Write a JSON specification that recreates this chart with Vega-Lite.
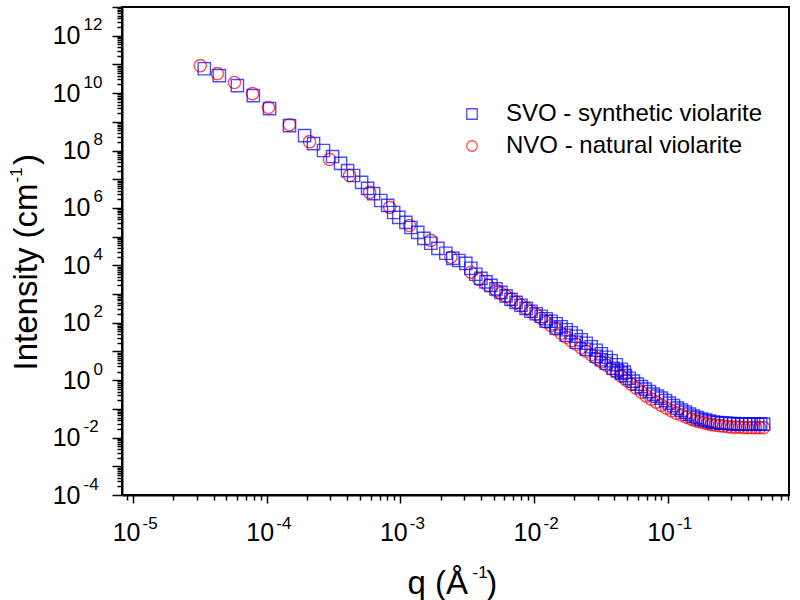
{
  "$schema": "https://vega.github.io/schema/vega-lite/v6.json",
  "width": 667,
  "height": 488,
  "autosize": {"type": "none"},
  "padding": {"left": 122, "top": 7, "right": 11, "bottom": 105},
  "background": "white",
  "config": {
    "view": {"stroke": "black", "strokeWidth": 2},
    "font": "Liberation Sans",
    "axis": {"labelFont": "Liberation Sans", "labelColor": "black", "titleFont": "Liberation Sans", "titleColor": "black", "titleFontWeight": "normal", "grid": false, "labelOverlap": false, "labelFlush": false},
    "legend": {"orient": "none", "legendX": 338, "legendY": 95, "labelFont": "Liberation Sans", "labelFontSize": 24, "labelColor": "black", "labelLimit": 500, "symbolSize": 110, "symbolStrokeWidth": 1.3, "rowPadding": 8, "labelOffset": 22}
  },
  "data": {"values": [
    {"sample": "NVO - natural violarite", "q": 3.18e-5, "I": 9.12e10},
    {"sample": "NVO - natural violarite", "q": 4.27e-5, "I": 4.79e10},
    {"sample": "NVO - natural violarite", "q": 5.73e-5, "I": 2.34e10},
    {"sample": "NVO - natural violarite", "q": 7.82e-5, "I": 9.55e9},
    {"sample": "NVO - natural violarite", "q": 1.03e-4, "I": 3.16e9},
    {"sample": "NVO - natural violarite", "q": 1.48e-4, "I": 7.94e8},
    {"sample": "NVO - natural violarite", "q": 2.09e-4, "I": 2.04e8},
    {"sample": "NVO - natural violarite", "q": 2.95e-4, "I": 4.9e7},
    {"sample": "NVO - natural violarite", "q": 4.17e-4, "I": 1.35e7},
    {"sample": "NVO - natural violarite", "q": 5.89e-4, "I": 3.47e6},
    {"sample": "NVO - natural violarite", "q": 8.32e-4, "I": 1.05e6},
    {"sample": "NVO - natural violarite", "q": 1.17e-3, "I": 2.45e5},
    {"sample": "NVO - natural violarite", "q": 1.69e-3, "I": 7.41e4},
    {"sample": "NVO - natural violarite", "q": 2.39e-3, "I": 1.91e4},
    {"sample": "NVO - natural violarite", "q": 3.37e-3, "I": 5750},
    {"sample": "NVO - natural violarite", "q": 3.87e-3, "I": 3240},
    {"sample": "NVO - natural violarite", "q": 4.53e-3, "I": 2000},
    {"sample": "NVO - natural violarite", "q": 5.2e-3, "I": 1350},
    {"sample": "NVO - natural violarite", "q": 5.662e-3, "I": 1062},
    {"sample": "NVO - natural violarite", "q": 6.18e-3, "I": 836},
    {"sample": "NVO - natural violarite", "q": 6.73e-3, "I": 656},
    {"sample": "NVO - natural violarite", "q": 7.345e-3, "I": 516},
    {"sample": "NVO - natural violarite", "q": 7.998e-3, "I": 406},
    {"sample": "NVO - natural violarite", "q": 8.73e-3, "I": 319},
    {"sample": "NVO - natural violarite", "q": 9.506e-3, "I": 251},
    {"sample": "NVO - natural violarite", "q": 1.038e-2, "I": 198},
    {"sample": "NVO - natural violarite", "q": 1.13e-2, "I": 144},
    {"sample": "NVO - natural violarite", "q": 1.233e-2, "I": 104},
    {"sample": "NVO - natural violarite", "q": 1.343e-2, "I": 78.7},
    {"sample": "NVO - natural violarite", "q": 1.466e-2, "I": 59.4},
    {"sample": "NVO - natural violarite", "q": 1.596e-2, "I": 43.2},
    {"sample": "NVO - natural violarite", "q": 1.742e-2, "I": 31.3},
    {"sample": "NVO - natural violarite", "q": 1.897e-2, "I": 23.7},
    {"sample": "NVO - natural violarite", "q": 2.07e-2, "I": 17.9},
    {"sample": "NVO - natural violarite", "q": 2.254e-2, "I": 13.5},
    {"sample": "NVO - natural violarite", "q": 2.46e-2, "I": 10.2},
    {"sample": "NVO - natural violarite", "q": 2.679e-2, "I": 7.71},
    {"sample": "NVO - natural violarite", "q": 2.924e-2, "I": 5.82},
    {"sample": "NVO - natural violarite", "q": 3.192e-2, "I": 4.4},
    {"sample": "NVO - natural violarite", "q": 3.475e-2, "I": 3.32},
    {"sample": "NVO - natural violarite", "q": 3.784e-2, "I": 2.51},
    {"sample": "NVO - natural violarite", "q": 4.13e-2, "I": 1.9},
    {"sample": "NVO - natural violarite", "q": 4.508e-2, "I": 1.38},
    {"sample": "NVO - natural violarite", "q": 4.909e-2, "I": 1.0},
    {"sample": "NVO - natural violarite", "q": 5.346e-2, "I": 0.726},
    {"sample": "NVO - natural violarite", "q": 5.834e-2, "I": 0.527},
    {"sample": "NVO - natural violarite", "q": 6.368e-2, "I": 0.383},
    {"sample": "NVO - natural violarite", "q": 6.934e-2, "I": 0.277},
    {"sample": "NVO - natural violarite", "q": 7.551e-2, "I": 0.218},
    {"sample": "NVO - natural violarite", "q": 8.241e-2, "I": 0.172},
    {"sample": "NVO - natural violarite", "q": 8.974e-2, "I": 0.135},
    {"sample": "NVO - natural violarite", "q": 9.795e-2, "I": 0.106},
    {"sample": "NVO - natural violarite", "q": 0.1067, "I": 0.0869},
    {"sample": "NVO - natural violarite", "q": 0.1164, "I": 0.0711},
    {"sample": "NVO - natural violarite", "q": 0.1271, "I": 0.0607},
    {"sample": "NVO - natural violarite", "q": 0.1384, "I": 0.0516},
    {"sample": "NVO - natural violarite", "q": 0.1507, "I": 0.044},
    {"sample": "NVO - natural violarite", "q": 0.1614, "I": 0.039},
    {"sample": "NVO - natural violarite", "q": 0.173, "I": 0.036},
    {"sample": "NVO - natural violarite", "q": 0.1854, "I": 0.0333},
    {"sample": "NVO - natural violarite", "q": 0.1987, "I": 0.0307},
    {"sample": "NVO - natural violarite", "q": 0.2128, "I": 0.0283},
    {"sample": "NVO - natural violarite", "q": 0.228, "I": 0.0272},
    {"sample": "NVO - natural violarite", "q": 0.2449, "I": 0.0261},
    {"sample": "NVO - natural violarite", "q": 0.2624, "I": 0.0251},
    {"sample": "NVO - natural violarite", "q": 0.2812, "I": 0.0242},
    {"sample": "NVO - natural violarite", "q": 0.3013, "I": 0.0232},
    {"sample": "NVO - natural violarite", "q": 0.3228, "I": 0.0232},
    {"sample": "NVO - natural violarite", "q": 0.3459, "I": 0.0232},
    {"sample": "NVO - natural violarite", "q": 0.3707, "I": 0.0223},
    {"sample": "NVO - natural violarite", "q": 0.3972, "I": 0.0223},
    {"sample": "NVO - natural violarite", "q": 0.4256, "I": 0.0223},
    {"sample": "NVO - natural violarite", "q": 0.456, "I": 0.0223},
    {"sample": "NVO - natural violarite", "q": 0.4887, "I": 0.0223},
    {"sample": "NVO - natural violarite", "q": 0.5236, "I": 0.0223},
    {"sample": "SVO - synthetic violarite", "q": 3.41e-5, "I": 7.08e10},
    {"sample": "SVO - synthetic violarite", "q": 4.42e-5, "I": 4.07e10},
    {"sample": "SVO - synthetic violarite", "q": 6.03e-5, "I": 1.82e10},
    {"sample": "SVO - synthetic violarite", "q": 7.94e-5, "I": 8.13e9},
    {"sample": "SVO - synthetic violarite", "q": 1.05e-4, "I": 2.88e9},
    {"sample": "SVO - synthetic violarite", "q": 1.48e-4, "I": 7.41e8},
    {"sample": "SVO - synthetic violarite", "q": 1.92e-4, "I": 3.31e8},
    {"sample": "SVO - synthetic violarite", "q": 2.24e-4, "I": 1.74e8},
    {"sample": "SVO - synthetic violarite", "q": 2.66e-4, "I": 1.0e8},
    {"sample": "SVO - synthetic violarite", "q": 3.11e-4, "I": 6.17e7},
    {"sample": "SVO - synthetic violarite", "q": 3.57e-4, "I": 3.55e7},
    {"sample": "SVO - synthetic violarite", "q": 4.03e-4, "I": 2.0e7},
    {"sample": "SVO - synthetic violarite", "q": 4.47e-4, "I": 1.35e7},
    {"sample": "SVO - synthetic violarite", "q": 5.13e-4, "I": 7.76e6},
    {"sample": "SVO - synthetic violarite", "q": 5.69e-4, "I": 4.79e6},
    {"sample": "SVO - synthetic violarite", "q": 6.31e-4, "I": 3.16e6},
    {"sample": "SVO - synthetic violarite", "q": 7.13e-4, "I": 1.82e6},
    {"sample": "SVO - synthetic violarite", "q": 8.04e-4, "I": 1.23e6},
    {"sample": "SVO - synthetic violarite", "q": 8.91e-4, "I": 6.92e5},
    {"sample": "SVO - synthetic violarite", "q": 9.73e-4, "I": 4.68e5},
    {"sample": "SVO - synthetic violarite", "q": 1.1e-3, "I": 3.16e5},
    {"sample": "SVO - synthetic violarite", "q": 1.2e-3, "I": 2.09e5},
    {"sample": "SVO - synthetic violarite", "q": 1.35e-3, "I": 1.41e5},
    {"sample": "SVO - synthetic violarite", "q": 1.5e-3, "I": 8.71e4},
    {"sample": "SVO - synthetic violarite", "q": 1.69e-3, "I": 5.89e4},
    {"sample": "SVO - synthetic violarite", "q": 1.91e-3, "I": 3.89e4},
    {"sample": "SVO - synthetic violarite", "q": 2.19e-3, "I": 2.63e4},
    {"sample": "SVO - synthetic violarite", "q": 2.47e-3, "I": 1.74e4},
    {"sample": "SVO - synthetic violarite", "q": 2.74e-3, "I": 1.48e4},
    {"sample": "SVO - synthetic violarite", "q": 3.09e-3, "I": 1.17e4},
    {"sample": "SVO - synthetic violarite", "q": 3.37e-3, "I": 7940},
    {"sample": "SVO - synthetic violarite", "q": 3.67e-3, "I": 4900},
    {"sample": "SVO - synthetic violarite", "q": 4.009e-3, "I": 3532},
    {"sample": "SVO - synthetic violarite", "q": 4.375e-3, "I": 2667},
    {"sample": "SVO - synthetic violarite", "q": 4.764e-3, "I": 2014},
    {"sample": "SVO - synthetic violarite", "q": 5.2e-3, "I": 1523},
    {"sample": "SVO - synthetic violarite", "q": 5.662e-3, "I": 1151},
    {"sample": "SVO - synthetic violarite", "q": 6.18e-3, "I": 869},
    {"sample": "SVO - synthetic violarite", "q": 6.73e-3, "I": 656},
    {"sample": "SVO - synthetic violarite", "q": 7.345e-3, "I": 516},
    {"sample": "SVO - synthetic violarite", "q": 7.998e-3, "I": 406},
    {"sample": "SVO - synthetic violarite", "q": 8.73e-3, "I": 319},
    {"sample": "SVO - synthetic violarite", "q": 9.506e-3, "I": 251},
    {"sample": "SVO - synthetic violarite", "q": 1.038e-2, "I": 206},
    {"sample": "SVO - synthetic violarite", "q": 1.13e-2, "I": 168},
    {"sample": "SVO - synthetic violarite", "q": 1.233e-2, "I": 138},
    {"sample": "SVO - synthetic violarite", "q": 1.343e-2, "I": 113},
    {"sample": "SVO - synthetic violarite", "q": 1.466e-2, "I": 92.3},
    {"sample": "SVO - synthetic violarite", "q": 1.596e-2, "I": 72.6},
    {"sample": "SVO - synthetic violarite", "q": 1.742e-2, "I": 57.1},
    {"sample": "SVO - synthetic violarite", "q": 1.897e-2, "I": 44.9},
    {"sample": "SVO - synthetic violarite", "q": 2.07e-2, "I": 33.9},
    {"sample": "SVO - synthetic violarite", "q": 2.254e-2, "I": 25.6},
    {"sample": "SVO - synthetic violarite", "q": 2.46e-2, "I": 19.4},
    {"sample": "SVO - synthetic violarite", "q": 2.679e-2, "I": 14.6},
    {"sample": "SVO - synthetic violarite", "q": 2.924e-2, "I": 11.0},
    {"sample": "SVO - synthetic violarite", "q": 3.192e-2, "I": 8.35},
    {"sample": "SVO - synthetic violarite", "q": 3.475e-2, "I": 6.31},
    {"sample": "SVO - synthetic violarite", "q": 3.784e-2, "I": 4.76},
    {"sample": "SVO - synthetic violarite", "q": 4.13e-2, "I": 3.46},
    {"sample": "SVO - synthetic violarite", "q": 4.508e-2, "I": 2.41},
    {"sample": "SVO - synthetic violarite", "q": 4.742e-2, "I": 1.9},
    {"sample": "SVO - synthetic violarite", "q": 1.233e-2, "I": 112.7},
    {"sample": "SVO - synthetic violarite", "q": 1.466e-2, "I": 64.4},
    {"sample": "SVO - synthetic violarite", "q": 1.742e-2, "I": 36.7},
    {"sample": "SVO - synthetic violarite", "q": 2.07e-2, "I": 21.0},
    {"sample": "SVO - synthetic violarite", "q": 2.46e-2, "I": 11.97},
    {"sample": "SVO - synthetic violarite", "q": 2.924e-2, "I": 6.84},
    {"sample": "SVO - synthetic violarite", "q": 3.192e-2, "I": 5.16},
    {"sample": "SVO - synthetic violarite", "q": 3.475e-2, "I": 3.9},
    {"sample": "SVO - synthetic violarite", "q": 3.917e-2, "I": 2.61},
    {"sample": "SVO - synthetic violarite", "q": 4.207e-2, "I": 2.14},
    {"sample": "SVO - synthetic violarite", "q": 4.508e-2, "I": 1.75},
    {"sample": "SVO - synthetic violarite", "q": 4.831e-2, "I": 1.44},
    {"sample": "SVO - synthetic violarite", "q": 5.164e-2, "I": 1.17},
    {"sample": "SVO - synthetic violarite", "q": 5.546e-2, "I": 0.923},
    {"sample": "SVO - synthetic violarite", "q": 5.929e-2, "I": 0.726},
    {"sample": "SVO - synthetic violarite", "q": 6.368e-2, "I": 0.594},
    {"sample": "SVO - synthetic violarite", "q": 6.808e-2, "I": 0.486},
    {"sample": "SVO - synthetic violarite", "q": 7.311e-2, "I": 0.398},
    {"sample": "SVO - synthetic violarite", "q": 7.816e-2, "I": 0.326},
    {"sample": "SVO - synthetic violarite", "q": 8.395e-2, "I": 0.277},
    {"sample": "SVO - synthetic violarite", "q": 8.974e-2, "I": 0.237},
    {"sample": "SVO - synthetic violarite", "q": 9.638e-2, "I": 0.194},
    {"sample": "SVO - synthetic violarite", "q": 0.103, "I": 0.158},
    {"sample": "SVO - synthetic violarite", "q": 0.1107, "I": 0.13},
    {"sample": "SVO - synthetic violarite", "q": 0.1183, "I": 0.106},
    {"sample": "SVO - synthetic violarite", "q": 0.1271, "I": 0.0906},
    {"sample": "SVO - synthetic violarite", "q": 0.1358, "I": 0.0771},
    {"sample": "SVO - synthetic violarite", "q": 0.1459, "I": 0.0656},
    {"sample": "SVO - synthetic violarite", "q": 0.156, "I": 0.056},
    {"sample": "SVO - synthetic violarite", "q": 0.1671, "I": 0.0497},
    {"sample": "SVO - synthetic violarite", "q": 0.1791, "I": 0.044},
    {"sample": "SVO - synthetic violarite", "q": 0.1919, "I": 0.0406},
    {"sample": "SVO - synthetic violarite", "q": 0.2056, "I": 0.0375},
    {"sample": "SVO - synthetic violarite", "q": 0.2203, "I": 0.0346},
    {"sample": "SVO - synthetic violarite", "q": 0.236, "I": 0.0333},
    {"sample": "SVO - synthetic violarite", "q": 0.2529, "I": 0.0319},
    {"sample": "SVO - synthetic violarite", "q": 0.2716, "I": 0.0319},
    {"sample": "SVO - synthetic violarite", "q": 0.2911, "I": 0.0307},
    {"sample": "SVO - synthetic violarite", "q": 0.3119, "I": 0.0307},
    {"sample": "SVO - synthetic violarite", "q": 0.3342, "I": 0.0295},
    {"sample": "SVO - synthetic violarite", "q": 0.3581, "I": 0.0295},
    {"sample": "SVO - synthetic violarite", "q": 0.3837, "I": 0.0295},
    {"sample": "SVO - synthetic violarite", "q": 0.4111, "I": 0.0295},
    {"sample": "SVO - synthetic violarite", "q": 0.4406, "I": 0.0295},
    {"sample": "SVO - synthetic violarite", "q": 0.4721, "I": 0.0295},
    {"sample": "SVO - synthetic violarite", "q": 0.4977, "I": 0.0295},
    {"sample": "SVO - synthetic violarite", "q": 0.5236, "I": 0.0295}
  ]},
  "resolve": {"axis": {"x": "independent", "y": "independent"}},
  "layer": [
    {
      "transform": [{"filter": "datum.sample == 'NVO - natural violarite'"}],
      "mark": {"type": "point", "filled": false, "strokeWidth": 1.4, "size": 150, "clip": true},
      "encoding": {
        "x": {
          "field": "q", "type": "quantitative",
          "scale": {"type": "log", "domain": [8.26e-6, 0.81], "nice": false},
          "axis": {
            "orient": "bottom",
            "title": "q (Å\u00a0\u00a0)", "titleFontSize": 33, "titleAlign": "left", "titleBaseline": "alphabetic", "titleX": 285, "titleY": 98, "titleAngle": 0,
            "tickCount": 40,
            "labelExpr": "abs(log(datum.value)/LN10 - round(log(datum.value)/LN10)) < 0.001 ? '10' : ''",
            "labelFontSize": 25, "labelAlign": "center", "labelBaseline": "alphabetic", "labelOffset": -7, "labelPadding": 37,
            "domainColor": "black", "domainWidth": 2,
            "tickColor": "black", "tickWidth": 1.5,
            "tickSize": {"condition": {"test": "abs(log(datum.value)/LN10 - round(log(datum.value)/LN10)) < 0.001", "value": 8}, "value": 5}
          }
        },
        "y": {
          "field": "I", "type": "quantitative",
          "scale": {"type": "log", "domain": [1e-4, 1e13], "nice": false},
          "axis": {
            "orient": "left",
            "title": "Intensity (cm\u00a0\u00a0)", "titleFontSize": 33, "titleAngle": -90, "titleAlign": "left", "titleBaseline": "alphabetic", "titleX": -86, "titleY": 363,
            "tickCount": 40,
            "labelExpr": "abs(log(datum.value)/LN10 - round(log(datum.value)/LN10)) < 0.001 && round(log(datum.value)/LN10) % 2 == 0 ? '10' : ''",
            "labelFontSize": 25, "labelAlign": "right", "labelBaseline": "middle",
            "labelPadding": {"condition": {"test": "length(toString(round(log(datum.value)/LN10))) == 1", "value": 22}, "value": 32},
            "domainColor": "black", "domainWidth": 2,
            "tickColor": "black", "tickWidth": 1.5,
            "tickSize": {"condition": {"test": "abs(log(datum.value)/LN10 - round(log(datum.value)/LN10)) < 0.001", "value": 10}, "value": 5}
          }
        },
        "color": {
          "field": "sample", "type": "nominal",
          "scale": {"domain": ["SVO - synthetic violarite", "NVO - natural violarite"], "range": ["#0000ff", "#ff0000"]},
          "legend": {"title": null}
        },
        "shape": {
          "field": "sample", "type": "nominal",
          "scale": {"domain": ["SVO - synthetic violarite", "NVO - natural violarite"], "range": ["square", "circle"]},
          "legend": {"title": null}
        }
      }
    },
    {
      "transform": [{"filter": "datum.sample == 'SVO - synthetic violarite'"}],
      "mark": {"type": "point", "filled": false, "strokeWidth": 1.4, "size": 150, "clip": true},
      "encoding": {
        "x": {
          "field": "q", "type": "quantitative",
          "scale": {"type": "log", "domain": [8.26e-6, 0.81], "nice": false},
          "axis": {
            "orient": "bottom",
            "title": "-1", "titleFontSize": 17, "titleAlign": "left", "titleBaseline": "alphabetic", "titleX": 350, "titleY": 82, "titleAngle": 0,
            "tickCount": 40,
            "labelExpr": "abs(log(datum.value)/LN10 - round(log(datum.value)/LN10)) < 0.001 ? toString(round(log(datum.value)/LN10)) : ''",
            "labelFontSize": 17, "labelAlign": "left", "labelBaseline": "alphabetic", "labelOffset": 9, "labelPadding": 33,
            "domain": false, "ticks": false, "tickSize": 0
          }
        },
        "y": {
          "field": "I", "type": "quantitative",
          "scale": {"type": "log", "domain": [1e-4, 1e13], "nice": false},
          "axis": {
            "orient": "left",
            "title": "-1", "titleFontSize": 17, "titleAngle": -90, "titleAlign": "left", "titleBaseline": "alphabetic", "titleX": -101, "titleY": 175,
            "tickCount": 40,
            "labelExpr": "abs(log(datum.value)/LN10 - round(log(datum.value)/LN10)) < 0.001 && round(log(datum.value)/LN10) % 2 == 0 ? toString(round(log(datum.value)/LN10)) : ''",
            "labelFontSize": 17, "labelAlign": "left", "labelBaseline": "alphabetic", "labelOffset": -6,
            "labelPadding": {"condition": {"test": "length(toString(round(log(datum.value)/LN10))) == 1", "value": 29}, "value": 39},
            "domain": false, "ticks": false, "tickSize": 0
          }
        },
        "color": {
          "field": "sample", "type": "nominal",
          "scale": {"domain": ["SVO - synthetic violarite", "NVO - natural violarite"], "range": ["#0000ff", "#ff0000"]},
          "legend": {"title": null}
        },
        "shape": {
          "field": "sample", "type": "nominal",
          "scale": {"domain": ["SVO - synthetic violarite", "NVO - natural violarite"], "range": ["square", "circle"]},
          "legend": {"title": null}
        }
      }
    }
  ]
}
